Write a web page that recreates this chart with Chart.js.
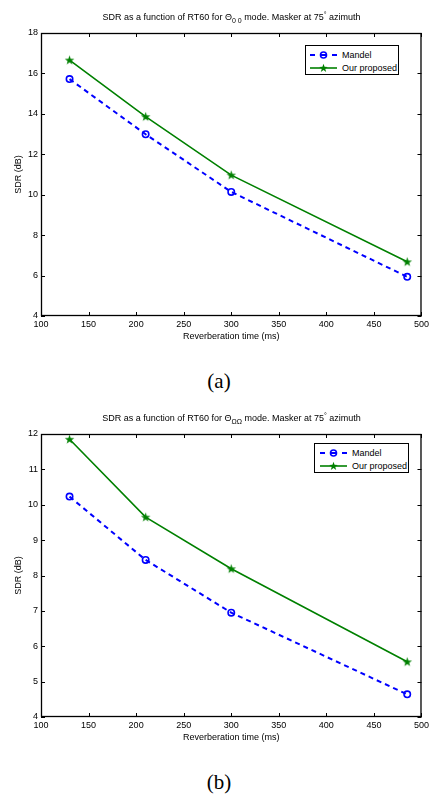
<!DOCTYPE html>
<html>
<head>
<meta charset="utf-8">
<script src="https://cdn.jsdelivr.net/npm/chart.js@4"></script>
<style>
  body { margin: 0; background: #fff; width: 432px; height: 795px; position: relative; overflow: hidden;
         font-family: "Liberation Sans", Arial, sans-serif; color: #000; }
  .panel { position: absolute; left: 0; width: 432px; height: 401px; }
  .panel canvas { position: absolute; left: 0; top: 0; }
  .title { position: absolute; left: 41px; width: 381px; top: 12px; text-align: center;
           font-size: 9px; line-height: 11px; white-space: nowrap; }
  .title sub { font-size: 7px; vertical-align: -3px; line-height: 0; }
  .title sup { font-size: 7px; vertical-align: 3px; line-height: 0; }
  .caption { position: absolute; left: 0; width: 438px; top: 369px; text-align: center;
             font-family: "Liberation Serif", "Times New Roman", serif; font-size: 21px; line-height: 24px; }
  .legend { position: absolute; box-sizing: border-box; height: 30px; border: 1px solid #000;
            background: #fff; font-size: 9px; padding-top: 2px; }
  .legend .row { display: flex; align-items: center; height: 13px; }
  .legend svg { display: block; margin-right: 5px; }
</style>
</head>
<body>

<div class="panel" id="panelA" style="top:0px">
  <canvas id="chartA" width="432" height="342"></canvas>
  <div class="title">SDR as a function of RT60 for &Theta;<sub>0 0</sub> mode. Masker at 75<sup>&deg;</sup> azimuth</div>
  <div class="legend" id="legendA" style="left:305px; top:45px; width:94px; padding-left:4px"></div>
  <div class="caption">(a)</div>
</div>

<div class="panel" id="panelB" style="top:401px">
  <canvas id="chartB" width="432" height="342"></canvas>
  <div class="title">SDR as a function of RT60 for &Theta;<sub>&Omega;&Omega;</sub> mode. Masker at 75<sup>&deg;</sup> azimuth</div>
  <div class="legend" id="legendB" style="left:314px; top:42px; width:95px; padding-left:5px"></div>
  <div class="caption">(b)</div>
</div>

<script>
// data
const rt60 = [130, 210, 300, 485];
const mandelA = [15.72, 12.99, 10.14, 5.94];
const proposedA = [16.66, 13.86, 10.97, 6.68];
const mandelB = [10.23, 8.44, 6.95, 4.64];
const proposedB = [11.85, 9.65, 8.19, 5.56];

const seriesNames = ["Mandel", "Our proposed"];
const xTicks = [100, 150, 200, 250, 300, 350, 400, 450, 500];
const yTicksA = [4, 6, 8, 10, 12, 14, 16, 18];
const yTicksB = [4, 5, 6, 7, 8, 9, 10, 11, 12];

const BLUE = "#0000ff";
const GREEN = "#008000";

Chart.defaults.font.family = '"Liberation Sans", Arial, sans-serif';
Chart.defaults.font.size = 9;
Chart.defaults.color = "#000";

function starPoints(cx, cy, R, r) {
    const pts = [];
    for (let i = 0; i < 10; i++) {
        const ang = -Math.PI / 2 + i * Math.PI / 5;
        const rad = i % 2 === 0 ? R : r;
        pts.push([cx + rad * Math.cos(ang), cy + rad * Math.sin(ang)]);
    }
    return pts;
}

// filled pentagram used as point marker
const starImg = document.createElement("canvas");
starImg.width = 11;
starImg.height = 11;
(function () {
    const c = starImg.getContext("2d");
    c.fillStyle = GREEN;
    c.beginPath();
    starPoints(5.5, 5.8, 5, 2).forEach((p, i) => i ? c.lineTo(p[0], p[1]) : c.moveTo(p[0], p[1]));
    c.closePath();
    c.fill();
})();

// matlab-like box with inward ticks on all sides
const boxTicks = {
    id: "boxTicks",
    afterDraw(chart) {
        const {ctx, chartArea: a, scales: {x, y}} = chart;
        ctx.save();
        ctx.strokeStyle = "#000";
        ctx.lineWidth = 1;
        ctx.beginPath();
        x.ticks.forEach(t => {
            const px = Math.round(x.getPixelForValue(t.value)) + 0.5;
            ctx.moveTo(px, a.bottom); ctx.lineTo(px, a.bottom - 4);
            ctx.moveTo(px, a.top); ctx.lineTo(px, a.top + 4);
        });
        y.ticks.forEach(t => {
            const py = Math.round(y.getPixelForValue(t.value)) + 0.5;
            ctx.moveTo(a.left, py); ctx.lineTo(a.left + 4, py);
            ctx.moveTo(a.right, py); ctx.lineTo(a.right - 4, py);
        });
        ctx.stroke();
        ctx.lineWidth = 1.3;
        ctx.strokeRect(a.left + 0.5, a.top + 0.5, a.width - 1, a.height - 1);
        ctx.restore();
    }
};

function pairs(xs, ys) {
    return xs.map((v, i) => ({x: v, y: ys[i]}));
}

function makeChart(canvasId, mandel, proposed, yTicks) {
    return new Chart(document.querySelector(canvasId), {
        type: "line",
        data: {
            datasets: [{
                label: seriesNames[0],
                data: pairs(rt60, mandel),
                borderColor: BLUE,
                borderWidth: 2,
                borderDash: [5, 4],
                pointStyle: "circle",
                pointRadius: 3.2,
                pointBorderWidth: 1.6,
                pointBorderColor: BLUE,
                pointBackgroundColor: "rgba(0,0,0,0)",
                tension: 0
            }, {
                label: seriesNames[1],
                data: pairs(rt60, proposed),
                borderColor: GREEN,
                borderWidth: 1.6,
                pointStyle: starImg,
                pointRadius: 5,
                tension: 0
            }]
        },
        options: {
            responsive: false,
            animation: false,
            events: [],
            layout: {
                autoPadding: false,
                padding: {top: 33, right: 10, left: 0, bottom: 0}
            },
            plugins: {
                legend: {display: false},
                title: {display: false},
                tooltip: {enabled: false}
            },
            scales: {
                x: {
                    type: "linear",
                    min: xTicks[0],
                    max: xTicks[xTicks.length - 1],
                    grid: {display: false, drawTicks: false},
                    border: {display: false},
                    ticks: {stepSize: xTicks[1] - xTicks[0], padding: 3, maxRotation: 0, autoSkip: false},
                    title: {display: true, text: "Reverberation time (ms)", padding: 0},
                    afterFit(scale) { scale.height = 26; }
                },
                y: {
                    min: yTicks[0],
                    max: yTicks[yTicks.length - 1],
                    grid: {display: false, drawTicks: false},
                    border: {display: false},
                    ticks: {stepSize: yTicks[1] - yTicks[0], padding: 3, autoSkip: false},
                    title: {display: true, text: "SDR (dB)", padding: {top: 13, bottom: 0}},
                    afterFit(scale) { scale.width = 41; }
                }
            }
        },
        plugins: [boxTicks]
    });
}

function buildLegend(el) {
    const star = starPoints(13.5, 5.3, 4.6, 1.8).map(p => p[0].toFixed(2) + "," + p[1].toFixed(2)).join(" ");
    const mandelSvg =
        '<svg width="27" height="10"><path d="M0 5H5M10.5 5H16.5M22 5H27" stroke="' + BLUE + '" stroke-width="2"/>' +
        '<circle cx="13.5" cy="5" r="3" fill="none" stroke="' + BLUE + '" stroke-width="1.6"/></svg>';
    const propSvg =
        '<svg width="27" height="10"><path d="M0 5H27" stroke="' + GREEN + '" stroke-width="1.6"/>' +
        '<polygon points="' + star + '" fill="' + GREEN + '"/></svg>';
    el.innerHTML =
        '<div class="row">' + mandelSvg + '<span>' + seriesNames[0] + '</span></div>' +
        '<div class="row">' + propSvg + '<span>' + seriesNames[1] + '</span></div>';
}

makeChart("#chartA", mandelA, proposedA, yTicksA);
makeChart("#chartB", mandelB, proposedB, yTicksB);
buildLegend(document.querySelector("#legendA"));
buildLegend(document.querySelector("#legendB"));
</script>
</body>
</html>
